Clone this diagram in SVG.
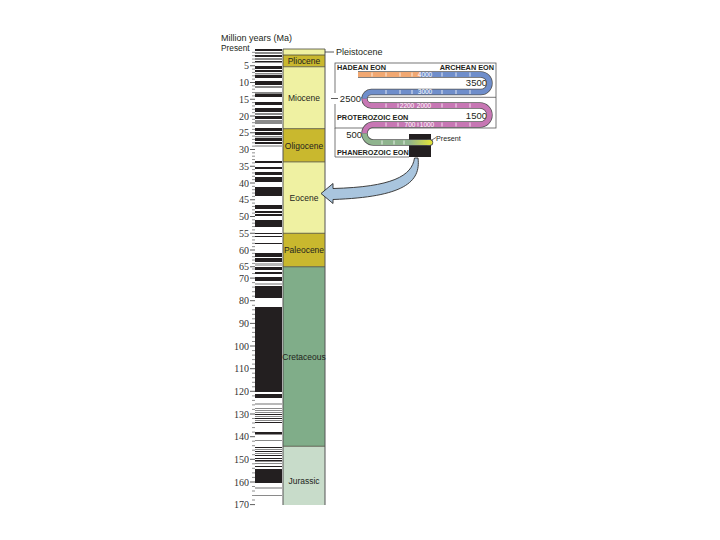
<svg xmlns="http://www.w3.org/2000/svg" width="720" height="540" viewBox="0 0 720 540">
<style>
.sans{font-family:"Liberation Sans",Arial,sans-serif;fill:#231f20}
.num{font-family:"Liberation Serif","Times New Roman",serif;font-size:10px;fill:#333;text-anchor:end}
.ep{font-family:"Liberation Sans",Arial,sans-serif;font-size:8.5px;fill:#231f20;text-anchor:middle}
.k{fill:#231f20}.g{fill:#8a8a8a}.l{fill:#b8b8b8}
.bd{stroke:#555;stroke-width:0.8;fill:none}
.rib-o{fill:none;stroke:#555;stroke-width:6.4}
.rib{fill:none;stroke-width:4.8}
.stl{font-family:"Liberation Sans",Arial,sans-serif;font-size:6.5px;fill:#fff;text-anchor:middle}
.tk{stroke:#fff;stroke-width:0.8}
.eon{font-family:"Liberation Sans",Arial,sans-serif;font-size:7.3px;fill:#231f20;font-weight:bold}
.yr{font-family:"Liberation Sans",Arial,sans-serif;font-size:9.5px;fill:#231f20}
</style>
<defs>
<linearGradient id="gy" x1="409" y1="0" x2="431" y2="0" gradientUnits="userSpaceOnUse">
<stop offset="0" stop-color="#8fb48e"/><stop offset="1" stop-color="#dfe23a"/>
</linearGradient>
</defs>
<rect width="720" height="540" fill="#fff"/>

<g id="axis-title">
<text class="sans" x="221" y="41" font-size="9">Million years (Ma)</text>
<text class="sans" x="221" y="51" font-size="8.3">Present</text>
</g>

<g id="polarity-bar">
<rect x="255" y="49" width="27" height="456" fill="#fff"/>
<rect class="k" x="255" y="49" width="27" height="2"/>
<rect class="g" x="255" y="52" width="27" height="2"/>
<rect class="k" x="255" y="55" width="27" height="2"/>
<rect class="g" x="255" y="58" width="27" height="2"/>
<rect class="k" x="255" y="61" width="27" height="1.5"/>
<rect class="k" x="255" y="66" width="27" height="3"/>
<rect class="k" x="255" y="70" width="27" height="2"/>
<rect class="g" x="255" y="73" width="27" height="1.5"/>
<rect class="k" x="255" y="75" width="27" height="3"/>
<rect class="k" x="255" y="81" width="27" height="4"/>
<rect class="g" x="255" y="86" width="27" height="2"/>
<rect class="g" x="255" y="92" width="27" height="2"/>
<rect class="k" x="255" y="94" width="27" height="3"/>
<rect class="k" x="255" y="102" width="27" height="3"/>
<rect class="k" x="255" y="108" width="27" height="4"/>
<rect class="g" x="255" y="113" width="27" height="2"/>
<rect class="k" x="255" y="116" width="27" height="3"/>
<rect class="g" x="255" y="120" width="27" height="4"/>
<rect class="k" x="255" y="128" width="27" height="3"/>
<rect class="k" x="255" y="132" width="27" height="3"/>
<rect class="g" x="255" y="136" width="27" height="1.5"/>
<rect class="k" x="255" y="138" width="27" height="3"/>
<rect class="k" x="255" y="142" width="27" height="2"/>
<rect class="l" x="255" y="145" width="27" height="2"/>
<rect class="k" x="255" y="161" width="27" height="2"/>
<rect class="k" x="255" y="167" width="27" height="2"/>
<rect class="k" x="255" y="172" width="27" height="3"/>
<rect class="k" x="255" y="177" width="27" height="5"/>
<rect class="k" x="255" y="187" width="27" height="9"/>
<rect class="k" x="255" y="205" width="27" height="4"/>
<rect class="k" x="255" y="211" width="27" height="2"/>
<rect class="k" x="255" y="214" width="27" height="2"/>
<rect class="k" x="255" y="220" width="27" height="3"/>
<rect class="k" x="255" y="223" width="27" height="4"/>
<rect class="k" x="255" y="233" width="27" height="1"/>
<rect class="k" x="255" y="236" width="27" height="1"/>
<rect class="k" x="255" y="243" width="27" height="1"/>
<rect class="k" x="255" y="253" width="27" height="4"/>
<rect class="k" x="255" y="258" width="27" height="4"/>
<rect class="l" x="255" y="263" width="27" height="3"/>
<rect class="k" x="255" y="267" width="27" height="3"/>
<rect class="k" x="255" y="272" width="27" height="2"/>
<rect class="k" x="255" y="277" width="27" height="4"/>
<rect class="l" x="255" y="283" width="27" height="2"/>
<rect class="k" x="255" y="286" width="27" height="12"/>
<rect class="k" x="255" y="307" width="27" height="85"/>
<rect class="k" x="255" y="394" width="27" height="4"/>
<rect class="l" x="255" y="403" width="27" height="2"/>
<rect class="g" x="255" y="408" width="27" height="1"/>
<rect class="g" x="255" y="410" width="27" height="1"/>
<rect class="g" x="255" y="412" width="27" height="1"/>
<rect class="k" x="255" y="414" width="27" height="1"/>
<rect class="g" x="255" y="416" width="27" height="1"/>
<rect class="k" x="255" y="418" width="27" height="1"/>
<rect class="g" x="255" y="420" width="27" height="1"/>
<rect class="k" x="255" y="422" width="27" height="1"/>
<rect class="k" x="255" y="432" width="27" height="2.5"/>
<rect class="g" x="255" y="440" width="27" height="1"/>
<rect class="k" x="255" y="447" width="27" height="1"/>
<rect class="g" x="255" y="449" width="27" height="1"/>
<rect class="k" x="255" y="451" width="27" height="1"/>
<rect class="g" x="255" y="453" width="27" height="1"/>
<rect class="k" x="255" y="455" width="27" height="1"/>
<rect class="k" x="255" y="458" width="27" height="1"/>
<rect class="k" x="255" y="460" width="27" height="1.5"/>
<rect class="g" x="255" y="463" width="27" height="1"/>
<rect class="k" x="255" y="466" width="27" height="1"/>
<rect class="k" x="255" y="469" width="27" height="14"/>
<rect class="l" x="255" y="487" width="27" height="2"/>
<rect class="g" x="255" y="495" width="27" height="1"/>
</g>

<g id="axis">
<path stroke="#444" stroke-width="0.6" fill="none" d="M252,52.35h3M252,55.7h3M252,59.05h3M252,62.4h3M252,69.1h3M252,72.45h3M252,75.8h3M252,79.15h3M252,85.85h3M252,89.2h3M252,92.55h3M252,95.9h3M252,102.6h3M252,105.95h3M252,109.3h3M252,112.65h3M252,119.35h3M252,122.7h3M252,126.05h3M252,129.4h3M252,136.1h3M252,139.45h3M252,142.8h3M252,146.15h3M252,152.85h3M252,156.2h3M252,159.55h3M252,162.9h3M252,169.6h3M252,172.95h3M252,176.3h3M252,179.65h3M252,186.35h3M252,189.7h3M252,193.05h3M252,196.4h3M252,203.1h3M252,206.45h3M252,209.8h3M252,213.15h3M252,219.85h3M252,223.2h3M252,226.55h3M252,229.9h3M252,236.6h3M252,239.95h3M252,243.3h3M252,246.65h3M252,253.35h3M252,256.7h3M252,260.05h3M252,263.4h3M252,269h3M252,273.5h3M252,282.6h3M252,287.1h3M252,291.7h3M252,296.2h3M252,305.3h3M252,309.8h3M252,314.3h3M252,318.8h3M252,327.9h3M252,332.4h3M252,337h3M252,341.5h3M252,350.6h3M252,355.1h3M252,359.6h3M252,364.1h3M252,373.2h3M252,377.7h3M252,382.3h3M252,386.8h3M252,395.9h3M252,400.4h3M252,404.9h3M252,409.4h3M252,418.5h3M252,423h3M252,427.6h3M252,432.1h3M252,441.2h3M252,445.7h3M252,450.2h3M252,454.7h3M252,463.8h3M252,468.3h3M252,472.9h3M252,477.4h3M252,486.5h3M252,491h3M252,495.5h3M252,500h3"/>
<path stroke="#333" stroke-width="0.8" fill="none" d="M250,65.75h5M250,82.5h5M250,99.25h5M250,116h5M250,132.75h5M250,149.5h5M250,166.25h5M250,183h5M250,199.75h5M250,216.5h5M250,233.25h5M250,250h5M250,266.75h5M250,278.1h5M250,300.7h5M250,323.4h5M250,346h5M250,368.7h5M250,391.3h5M250,414h5M250,436.7h5M250,459.3h5M250,482h5M250,504.6h5"/>
<text class="num" x="249" y="69.3">5</text>
<text class="num" x="249" y="86">10</text>
<text class="num" x="249" y="102.8">15</text>
<text class="num" x="249" y="119.5">20</text>
<text class="num" x="249" y="136.3">25</text>
<text class="num" x="249" y="153">30</text>
<text class="num" x="249" y="169.8">35</text>
<text class="num" x="249" y="186.5">40</text>
<text class="num" x="249" y="203.3">45</text>
<text class="num" x="249" y="220">50</text>
<text class="num" x="249" y="236.8">55</text>
<text class="num" x="249" y="253.5">60</text>
<text class="num" x="249" y="270.3">65</text>
<text class="num" x="249" y="281.6">70</text>
<text class="num" x="249" y="304.2">80</text>
<text class="num" x="249" y="326.9">90</text>
<text class="num" x="249" y="349.5">100</text>
<text class="num" x="249" y="372.2">110</text>
<text class="num" x="249" y="394.8">120</text>
<text class="num" x="249" y="417.5">130</text>
<text class="num" x="249" y="440.2">140</text>
<text class="num" x="249" y="462.8">150</text>
<text class="num" x="249" y="485.5">160</text>
<text class="num" x="249" y="508.1">170</text>
</g>

<g id="epochs">
<rect id="pleistocene" x="283" y="49" width="42" height="6" fill="#eff1a2"/>
<rect id="pliocene" x="283" y="55" width="42" height="11.75" fill="#c9b82e"/>
<rect id="miocene" x="283" y="66.75" width="42" height="61.95" fill="#eff1a2"/>
<rect id="oligocene" x="283" y="128.7" width="42" height="33.2" fill="#c9b82e"/>
<rect id="eocene" x="283" y="161.9" width="42" height="71.35" fill="#eff1a2"/>
<rect id="paleocene" x="283" y="233.25" width="42" height="33.5" fill="#c9b82e"/>
<rect id="cretaceous" x="283" y="266.75" width="42" height="179.5" fill="#80ad89"/>
<rect id="jurassic" x="283" y="446.25" width="42" height="58.75" fill="#c8dcca"/>
<path stroke="#4a4a3a" stroke-width="0.8" fill="none" d="M283,49H325M283,55H325M283,66.75H325M283,128.7H325M283,161.9H325M283,233.25H325M283,266.75H325M283,446.25H325"/>
<path stroke="#555" stroke-width="1" fill="none" d="M283,49V505M325,49V505"/>
<text class="ep" x="304" y="64">Pliocene</text>
<text class="ep" x="304" y="100.5">Miocene</text>
<text class="ep" x="304" y="148.5">Oligocene</text>
<text class="ep" x="304" y="201">Eocene</text>
<text class="ep" x="304" y="253">Paleocene</text>
<text class="ep" x="304" y="360" font-size="8">Cretaceous</text>
<text class="ep" x="304" y="484">Jurassic</text>
<path d="M325,52H334" stroke="#333" stroke-width="0.8"/>
<text class="sans" x="336" y="55" font-size="9">Pleistocene</text>
</g>

<g id="eon-inset">
<rect x="335" y="63" width="161" height="65" fill="#fff" class="bd"/>
<path class="bd" d="M335,97.3H496M335,128V157H409"/>
<rect x="409" y="134" width="22" height="23" fill="#231f20"/>
<text class="eon" x="337" y="70" font-size="7.5">HADEAN EON</text>
<text class="eon" x="494" y="69.5" font-size="8.5" text-anchor="end">ARCHEAN EON</text>
<text class="eon" x="337" y="120">PROTEROZOIC EON</text>
<text class="eon" x="337" y="154.5">PHANEROZOIC EON</text>
<rect x="330" y="93" width="31" height="11" fill="#fff"/>
<path d="M331,98.5H338" stroke="#333" stroke-width="0.8"/>
<text class="yr" x="361" y="102" text-anchor="end">2500</text>
<text class="yr" x="362" y="137.5" text-anchor="end">500</text>
<text class="yr" x="487" y="85.5" text-anchor="end">3500</text>
<text class="yr" x="487" y="118.5" text-anchor="end">1500</text>
<path class="rib-o" d="M358,74.5H480.75A8.75,8.75 0 0 1 480.75,92H371.25A6.75,6.75 0 0 0 371.25,105.5H480A9.5,9.5 0 0 1 480,124.5H373.5A9,9 0 0 0 373.5,142.5H430"/>
<path class="rib-o" d="M429,142.5H430" stroke-linecap="round"/>
<path class="rib" stroke="#f1a872" d="M358,74.5H420"/>
<path class="rib" stroke="#6f8ecb" d="M420,74.5H480.75A8.75,8.75 0 0 1 480.75,92H371.25A6.75,6.75 0 0 0 364.5,98.75"/>
<path class="rib" stroke="#c777b4" d="M364.5,98.75A6.75,6.75 0 0 0 371.25,105.5H480A9.5,9.5 0 0 1 480,124.5H373.5A9,9 0 0 0 364.5,133.5"/>
<path class="rib" stroke="#8fb48e" d="M364.5,133.5A9,9 0 0 0 373.5,142.5H409.5"/>
<path class="rib" stroke="url(#gy)" stroke-linecap="round" d="M409,142.5H430"/>
<path class="tk" d="M372,72.5v4M386,72.5v4M400,72.5v4M412,72.5v4M442,72.5v4M456,72.5v4M470,72.5v4M386,90v4M400,90v4M412,90v4M442,90v4M456,90v4M470,90v4M386,103.5v4M398,103.5v4M442,103.5v4M456,103.5v4M470,103.5v4M386,122.5v4M398,122.5v4M418,122.5v4M442,122.5v4M456,122.5v4M470,122.5v4M382,140.5v4M394,140.5v4M404,140.5v4"/>
<text class="stl" x="425" y="76.8">4000</text>
<text class="stl" x="425" y="94.3">3000</text>
<text class="stl" x="407" y="107.8">2200</text>
<text class="stl" x="424" y="107.8">2000</text>
<text class="stl" x="410" y="126.8">700</text>
<text class="stl" x="427" y="126.8">1000</text>
<path d="M431,140.5L436,137.5" stroke="#333" stroke-width="0.7"/>
<text class="sans" x="436" y="141" font-size="7.2">Present</text>
</g>

<g id="connectors">
<path d="M414.5,158C412,176 392,187 333,188.5L333,183.5L321,193.5L333,203.5L333,199.5C404,197 421,182 418,158Z" fill="#a9c5de" stroke="#2b2b2b" stroke-width="0.9" stroke-linejoin="round"/>
</g>
</svg>
